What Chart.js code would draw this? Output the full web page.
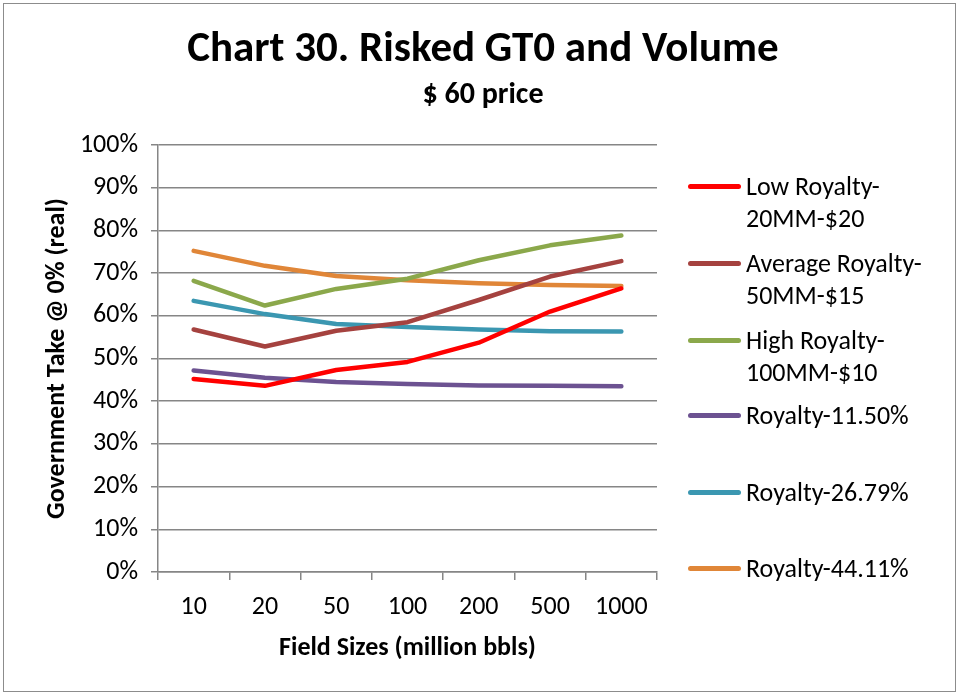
<!DOCTYPE html>
<html>
<head>
<meta charset="utf-8">
<script src="https://cdn.jsdelivr.net/npm/chart.js@4"></script>
<style>
  body { margin: 0; background: #fff; }
  #wrap { position: relative; width: 961px; height: 696px; }
  #frame { position: absolute; left: 3px; top: 3px; width: 951px; height: 687px; border: 1px solid #8c8c8c; }
  canvas { position: absolute; left: 0; top: 0; }
  .leg { position: absolute; left: 688px; font-family: Carlito, Calibri, Lato, sans-serif; font-size: 26px; line-height: 32px; color: #000; }
  .leg .sw { position: absolute; left: 0; width: 53px; height: 5px; border-radius: 3px; top: 14px; }
  .leg .tx { margin-left: 58px; white-space: nowrap; }
</style>
</head>
<body>
<div id="wrap">
  <div id="frame"></div>
  <canvas id="c" width="961" height="696"></canvas>
  <div id="legend"></div>
</div>
<script>
// Data
const fieldSizes = ['10', '20', '50', '100', '200', '500', '1000'];
const seriesNames = [
    ['Low Royalty-', '20MM-$20'],
    ['Average Royalty-', '50MM-$15'],
    ['High Royalty-', '100MM-$10'],
    ['Royalty-11.50%'],
    ['Royalty-26.79%'],
    ['Royalty-44.11%']
];
const lowRoyalty = [45.2, 43.6, 47.3, 49.2, 53.7, 61.0, 66.4];
const avgRoyalty = [56.8, 52.8, 56.5, 58.5, 63.7, 69.2, 72.8];
const highRoyalty = [68.2, 62.4, 66.3, 68.7, 73.0, 76.5, 78.8];
const royalty1150 = [47.2, 45.5, 44.5, 44.0, 43.7, 43.6, 43.5];
const royalty2679 = [63.5, 60.4, 58.1, 57.4, 56.8, 56.4, 56.3];
const royalty4411 = [75.2, 71.7, 69.3, 68.3, 67.6, 67.2, 67.0];
const colors = ['#ff0000', '#a5423f', '#8ba84b', '#6c5291', '#3b97b1', '#e08638'];
const legendTops = [170, 247, 324, 399, 476, 552];

const fontFam = 'Carlito, Calibri, Lato, sans-serif';
const allSeries = [lowRoyalty, avgRoyalty, highRoyalty, royalty1150, royalty2679, royalty4411];

// Legend (HTML)
const leg = document.getElementById('legend');
seriesNames.forEach((n, i) => {
    const d = document.createElement('div');
    d.className = 'leg';
    d.style.top = legendTops[i] + 'px';
    d.innerHTML = '<div class="sw" style="background:' + colors[i] + '"></div><div class="tx">' + n.join('<br>') + '</div>';
    leg.appendChild(d);
});

// Title + subtitle centred on the whole canvas (Excel style)
const titlePlugin = {
    id: 'titles',
    afterDraw(chart) {
        const ctx = chart.ctx;
        ctx.save();
        ctx.fillStyle = '#000';
        ctx.textAlign = 'center';
        ctx.textBaseline = 'middle';
        ctx.font = 'bold 43px ' + fontFam;
        ctx.fillText('Chart 30. Risked GT0 and Volume', 483, 50);
        ctx.font = 'bold 30px ' + fontFam;
        ctx.fillText('$ 60 price', 483, 95);
        ctx.restore();
    }
};

new Chart(document.getElementById('c'), {
    type: 'line',
    data: {
        labels: fieldSizes,
        datasets: allSeries.map((s, i) => ({
            label: seriesNames[i].join(''),
            data: s,
            borderColor: colors[i],
            backgroundColor: colors[i],
            borderWidth: 4.5,
            pointRadius: 0,
            tension: 0,
            borderCapStyle: 'round',
            borderJoinStyle: 'round'
        }))
    },
    plugins: [titlePlugin],
    options: {
        responsive: false,
        animation: false,
        layout: { padding: { left: 38, right: 304, top: 145, bottom: 28 } },
        plugins: {
            legend: { display: false },
            tooltip: { enabled: false }
        },
        scales: {
            x: {
                offset: true,
                grid: { display: true, drawOnChartArea: false, offset: true, color: '#868686', tickLength: 8, lineWidth: 1.5 },
                border: { color: '#868686', width: 1.5 },
                ticks: { color: '#000', font: { family: fontFam, size: 26 }, padding: 12 },
                title: { display: true, text: 'Field Sizes (million bbls)', color: '#000', font: { family: fontFam, size: 26, weight: 'bold' } },
                afterFit: (s) => { s.height = 96; }
            },
            y: {
                min: 0,
                max: 100,
                ticks: { stepSize: 10, color: '#000', font: { family: fontFam, size: 26 }, padding: 13, callback: v => v + '%' },
                grid: { color: '#868686', lineWidth: 1.5, tickLength: 7 },
                border: { color: '#868686', width: 1.5 },
                title: { display: true, text: 'Government Take @ 0% (real)', color: '#000', font: { family: fontFam, size: 26, weight: 'bold' } },
                afterFit: (s) => { s.width = 120; }
            }
        }
    }
});
</script>
</body>
</html>
